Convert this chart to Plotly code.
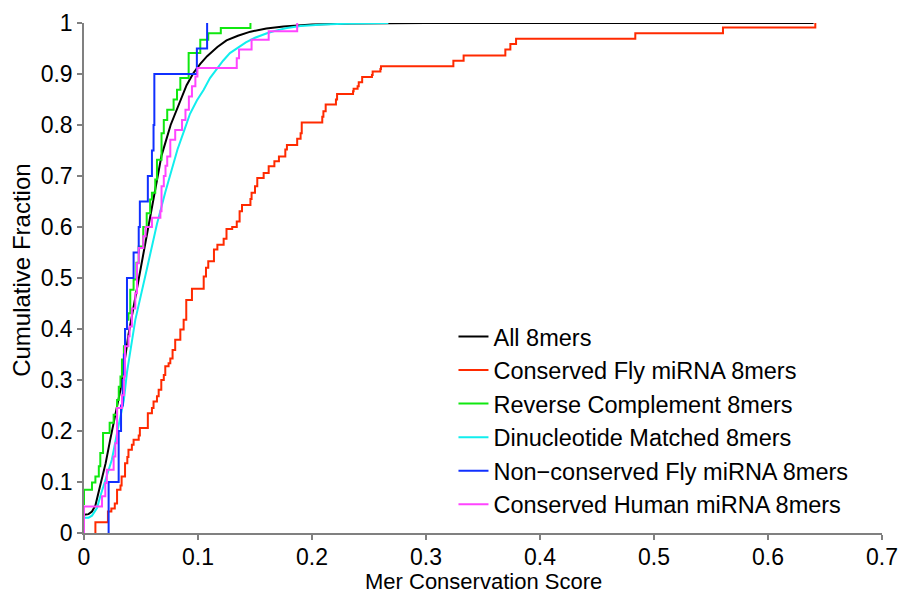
import plotly.graph_objects as go

# ---- data ----
all_x = [0, 0.004, 0.007, 0.010, 0.014, 0.019, 0.023, 0.0275, 0.032, 0.039, 0.048, 0.056,
         0.062, 0.068, 0.076, 0.085, 0.090, 0.096, 0.102, 0.108, 0.117, 0.125, 0.135, 0.146,
         0.160, 0.175, 0.200, 0.234, 0.30, 0.64]
all_y = [0.036, 0.037, 0.042, 0.054, 0.091, 0.137, 0.183, 0.229, 0.281, 0.389, 0.497, 0.597,
         0.672, 0.740, 0.800, 0.852, 0.878, 0.902, 0.920, 0.935, 0.953, 0.966, 0.975, 0.983,
         0.989, 0.993, 0.997, 0.999, 1.0, 1.0]

red_x = [0.010, 0.010, 0.021, 0.024, 0.027, 0.029, 0.032, 0.033, 0.036, 0.038, 0.039, 0.042,
         0.0435, 0.048, 0.049, 0.056, 0.0596, 0.061, 0.064, 0.0655, 0.0678, 0.070, 0.0713,
         0.0742, 0.0757, 0.0777, 0.080, 0.0845, 0.0874, 0.0897, 0.0947, 0.105, 0.107, 0.109,
         0.114, 0.117, 0.1225, 0.125, 0.130, 0.134, 0.1365, 0.1386, 0.146, 0.147, 0.150,
         0.152, 0.1576, 0.162, 0.167, 0.171, 0.1766, 0.178, 0.187, 0.190, 0.191, 0.209,
         0.210, 0.212, 0.221, 0.222, 0.236, 0.2365, 0.240, 0.241, 0.244, 0.2526, 0.2532,
         0.260, 0.2605, 0.324, 0.333, 0.3696, 0.374, 0.379, 0.4836, 0.5605, 0.6415]
red_y = [0.0, 0.021, 0.042, 0.048, 0.058, 0.085, 0.093, 0.111, 0.137, 0.149, 0.163, 0.173,
         0.183, 0.191, 0.206, 0.235, 0.245, 0.258, 0.268, 0.281, 0.300, 0.310, 0.327,
         0.333, 0.342, 0.359, 0.379, 0.399, 0.418, 0.457, 0.479, 0.503, 0.520, 0.533,
         0.556, 0.565, 0.577, 0.596, 0.600, 0.611, 0.631, 0.643, 0.655, 0.667, 0.680,
         0.696, 0.706, 0.719, 0.729, 0.738, 0.752, 0.761, 0.773, 0.784, 0.805, 0.816,
         0.827, 0.840, 0.850, 0.861, 0.866, 0.871, 0.876, 0.884, 0.894, 0.898, 0.905,
         0.910, 0.915, 0.926, 0.9365, 0.948, 0.959, 0.969, 0.980, 0.991, 1.0]

green_x = [0.000, 0.000, 0.007, 0.010, 0.013, 0.0143, 0.0167, 0.0225, 0.026, 0.029, 0.0305,
           0.032, 0.0333, 0.035, 0.036, 0.0377, 0.039, 0.0406, 0.0435, 0.046, 0.048, 0.052,
           0.055, 0.058, 0.0596, 0.0625, 0.064, 0.068, 0.070, 0.073, 0.0786, 0.0816, 0.0845,
           0.0918, 0.102, 0.109, 0.120, 0.146]
green_y = [0.055, 0.085, 0.099, 0.111, 0.131, 0.157, 0.196, 0.216, 0.232, 0.261, 0.287,
           0.307, 0.340, 0.366, 0.400, 0.418, 0.431, 0.477, 0.497, 0.530, 0.562, 0.600,
           0.627, 0.654, 0.667, 0.693, 0.732, 0.784, 0.810, 0.830, 0.850, 0.869, 0.892,
           0.941, 0.967, 0.980, 0.990, 1.0]

cyan_x = [0, 0.004, 0.007, 0.0114, 0.0143, 0.020, 0.0245, 0.029, 0.035, 0.0377, 0.045, 0.055,
          0.064, 0.0713, 0.077, 0.082, 0.088, 0.093, 0.099, 0.105, 0.1105, 0.1167, 0.122,
          0.128, 0.135, 0.142, 0.150, 0.1605, 0.170, 0.178, 0.19, 0.210, 0.234, 0.267]
cyan_y = [0.030, 0.030, 0.034, 0.049, 0.072, 0.111, 0.144, 0.196, 0.261, 0.315, 0.418, 0.516,
          0.606, 0.668, 0.715, 0.752, 0.790, 0.822, 0.848, 0.869, 0.892, 0.910, 0.926,
          0.941, 0.952, 0.962, 0.971, 0.980, 0.986, 0.990, 0.994, 0.997, 0.999, 1.0]

blue_x = [0.0216, 0.0216, 0.0304, 0.0325, 0.034, 0.035, 0.036, 0.0377, 0.0435, 0.048, 0.049,
          0.056, 0.0596, 0.061, 0.0617, 0.099, 0.108]
blue_y = [0.0, 0.10, 0.20, 0.25, 0.30, 0.35, 0.40, 0.50, 0.55, 0.60, 0.65,
          0.70, 0.75, 0.80, 0.90, 0.95, 1.0]

mag_x = [0, 0, 0.0158, 0.0187, 0.020, 0.026, 0.0275, 0.029, 0.0333, 0.035, 0.036, 0.039,
         0.040, 0.042, 0.045, 0.0465, 0.048, 0.052, 0.054, 0.0596, 0.067, 0.068, 0.070,
         0.0715, 0.073, 0.0757, 0.080, 0.086, 0.089, 0.092, 0.0947, 0.0977, 0.0995, 0.134,
         0.136, 0.147, 0.162, 0.187]
mag_y = [0.0, 0.052, 0.072, 0.098, 0.124, 0.150, 0.176, 0.245, 0.270, 0.307, 0.366, 0.386,
         0.405, 0.440, 0.470, 0.529, 0.559, 0.582, 0.600, 0.618, 0.631, 0.680, 0.700,
         0.720, 0.738, 0.771, 0.790, 0.810, 0.830, 0.856, 0.876, 0.895, 0.912, 0.931,
         0.948, 0.967, 0.984, 1.0]

x_ticks = [0, 0.1, 0.2, 0.3, 0.4, 0.5, 0.6, 0.7]
y_ticks = [0, 0.1, 0.2, 0.3, 0.4, 0.5, 0.6, 0.7, 0.8, 0.9, 1]

FONT = "Liberation Sans, Arial, Helvetica, sans-serif"

fig = go.Figure()
fig.add_trace(go.Scatter(x=all_x, y=all_y, mode="lines", name="All 8mers",
                         line=dict(color="#000000", width=2)))
fig.add_trace(go.Scatter(x=red_x, y=red_y, mode="lines", name="Conserved Fly miRNA 8mers",
                         line=dict(color="#ff2a00", width=2, shape="hv")))
fig.add_trace(go.Scatter(x=green_x, y=green_y, mode="lines", name="Reverse Complement 8mers",
                         line=dict(color="#10e810", width=2, shape="hv")))
fig.add_trace(go.Scatter(x=cyan_x, y=cyan_y, mode="lines", name="Dinucleotide Matched 8mers",
                         line=dict(color="#11eeee", width=2)))
fig.add_trace(go.Scatter(x=blue_x, y=blue_y, mode="lines", name="Non\u2212conserved Fly miRNA 8mers",
                         line=dict(color="#1030ff", width=2, shape="hv")))
fig.add_trace(go.Scatter(x=mag_x, y=mag_y, mode="lines", name="Conserved Human miRNA 8mers",
                         line=dict(color="#ff44ff", width=2, shape="hv")))

axis_common = dict(showgrid=False, zeroline=False, showline=True, linecolor="#808080",
                   linewidth=1.5, ticks="outside", ticklen=5, tickcolor="#808080",
                   tickwidth=1.5, automargin=False,
                   tickfont=dict(family=FONT, size=23, color="#000"))

fig.update_layout(
    width=902, height=593,
    margin=dict(l=84, r=20, t=23, b=60),
    paper_bgcolor="white", plot_bgcolor="white",
    font=dict(family=FONT, color="#000"),
    xaxis=dict(range=[0, 0.7], tickvals=x_ticks, ticktext=[str(v) for v in x_ticks],
               ticklabelstandoff=-2, **axis_common),
    yaxis=dict(range=[0, 1], tickvals=y_ticks, ticktext=[str(v) for v in y_ticks],
               **axis_common),
    legend=dict(x=0.463, y=0.428, xanchor="left", yanchor="top",
                font=dict(family=FONT, size=23.5, color="#000"),
                bgcolor="rgba(0,0,0,0)", borderwidth=0, tracegroupgap=0, itemwidth=30),
    showlegend=True,
    annotations=[
        dict(text="Mer Conservation Score", xref="paper", yref="paper", x=0.5, y=-0.0955,
             xanchor="center", yanchor="middle", showarrow=False,
             font=dict(family=FONT, size=22, color="#000")),
        dict(text="Cumulative Fraction", xref="paper", yref="paper", x=-0.0777, y=0.516,
             xanchor="center", yanchor="middle", textangle=-90, showarrow=False,
             font=dict(family=FONT, size=24, color="#000")),
    ],
)

fig.write_html("out.html")
